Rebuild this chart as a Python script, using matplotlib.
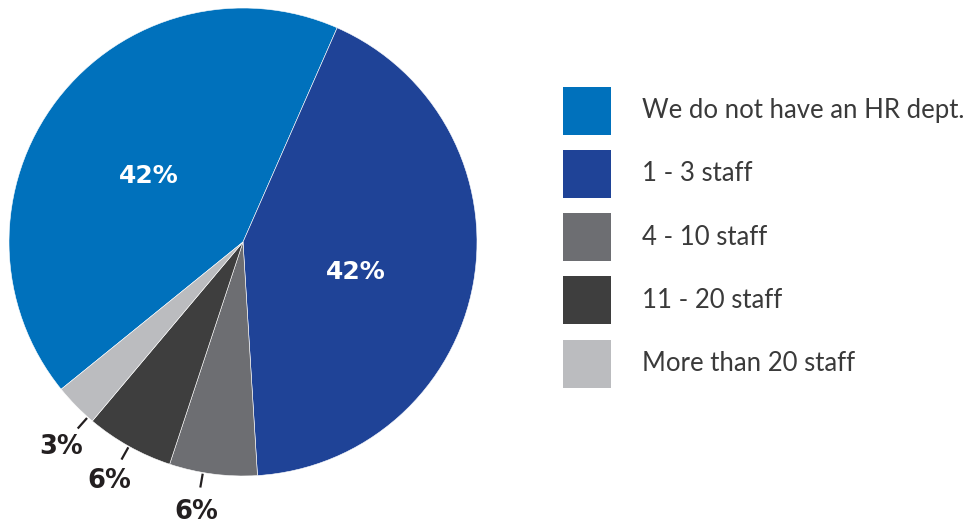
import numpy as np
import matplotlib.pyplot as plt
from matplotlib.patches import Rectangle

categories = ['We do not have an HR dept.', '1 - 3 staff', '4 - 10 staff',
              '11 - 20 staff', 'More than 20 staff']
values = [42, 42, 6, 6, 3]
colors = ['#0071bc', '#1f4397', '#6d6e72', '#3e3e3e', '#bbbcbf']

W, H = 980, 523
fig = plt.figure(figsize=(W / 100, H / 100), dpi=100)
ax = fig.add_axes([0, 0, 1, 1])

cx, cy, r = 243, H - 242, 234
wedges, _ = ax.pie(values, colors=colors, startangle=219, counterclock=False,
                   center=(cx, cy), radius=r, frame=True,
                   wedgeprops=dict(edgecolor='white', linewidth=0.4))
ax.set_xlim(0, W)
ax.set_ylim(0, H)
ax.set_aspect('equal')
ax.axis('off')

# big labels inside, small ones outside with a leader line
for i, w in enumerate(wedges):
    mid = np.deg2rad((w.theta1 + w.theta2) / 2)
    txt = f'{values[i]}%'
    if values[i] > 10:
        if i == 0:
            ang, d = mid + np.deg2rad(2.5), 0.49
        else:
            ang, d = mid - np.deg2rad(5), 0.5
        ax.text(cx + d * r * np.cos(ang), cy + d * r * np.sin(ang), txt,
                color='white', fontsize=18, fontweight='bold',
                ha='center', va='center')
    else:
        ang = mid + np.deg2rad(4 if i == 4 else 0 if i == 3 else -2.5)
        x0, y0 = cx + 1.005 * r * np.cos(ang), cy + 1.005 * r * np.sin(ang)
        x1, y1 = cx + 1.065 * r * np.cos(ang), cy + 1.065 * r * np.sin(ang)
        ax.plot([x0, x1], [y0, y1], color='#231f20', lw=1.6,
                solid_capstyle='butt')
        d = 1.175
        ax.text(cx + d * r * np.cos(ang), cy + d * r * np.sin(ang) + 1, txt,
                color='#231f20', fontsize=18.5, fontweight='bold',
                ha='center', va='center')

# legend
for i, (lab, c) in enumerate(zip(categories, colors)):
    yc = H - (110.5 + i * 63.3)
    ax.add_patch(Rectangle((563, yc - 24), 48, 48, facecolor=c,
                           edgecolor='none'))
    ax.text(642, yc, lab, fontsize=18.5, color='#3a3a3a', va='center',
            ha='left', family='Lato')

fig.savefig('out.png', dpi=100)
